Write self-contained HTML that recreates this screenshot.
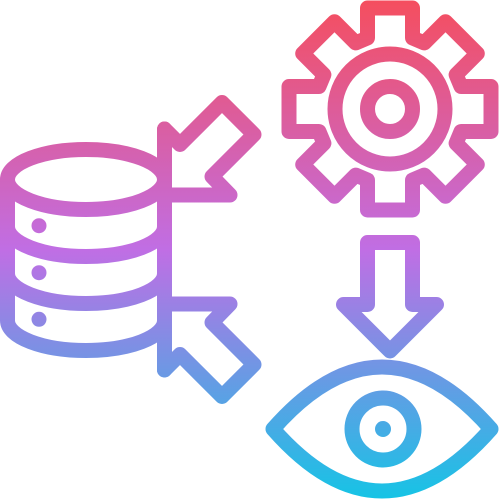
<!DOCTYPE html>
<html><head><style>html,body{margin:0;padding:0;background:#fff}svg{display:block}</style></head>
<body>
<svg width="500" height="500" viewBox="0 0 500 500" xmlns="http://www.w3.org/2000/svg">
<defs>
<linearGradient id="g" gradientUnits="userSpaceOnUse" x1="0" y1="0" x2="0" y2="500">
<stop offset="0" stop-color="#f54e5e"/>
<stop offset="0.5" stop-color="#c06ee4"/>
<stop offset="1" stop-color="#15c4e5"/>
</linearGradient>
</defs>
<g fill="none" stroke="url(#g)" stroke-width="15" stroke-linejoin="round" stroke-linecap="round">
<!-- gear -->
<path d="M367.5 38 L367.5 8 L412.5 8 L412.5 38 L424.3 42.9 L445.5 21.7 L477.3 53.5 L456.1 74.7 L461 86.5 L491 86.5 L491 131.5 L461 131.5 L456.1 143.3 L477.3 164.5 L445.5 196.3 L424.3 175.1 L412.5 180 L412.5 210 L367.5 210 L367.5 180 L355.7 175.1 L334.5 196.3 L302.7 164.5 L323.9 143.3 L319 131.5 L289 131.5 L289 86.5 L319 86.5 L323.9 74.7 L302.7 53.5 L334.5 21.7 L355.7 42.9 Z"/>
<circle cx="390" cy="109" r="55"/>
<circle cx="390" cy="109" r="22.5"/>
<!-- down arrow -->
<path d="M367.5 242.5 L412.5 242.5 L412.5 304.5 L436.5 304.5 L390 351 L343.5 304.5 L367.5 304.5 Z"/>
<!-- eye -->
<path d="M273 429 Q382 305 491 429 Q382 553 273 429 Z"/>
<circle cx="383" cy="429" r="31"/>
<!-- database -->
<ellipse cx="86" cy="179.5" rx="78.5" ry="30"/>
<path d="M7.5 179.5 L7.5 320.5 A78.5 30 0 0 0 164.5 320.5"/>
<path d="M7.5 226.5 A78.5 30 0 0 0 164.5 226.5"/>
<path d="M7.5 273.5 A78.5 30 0 0 0 164.5 273.5"/>
<line x1="164.5" y1="129" x2="164.5" y2="370"/>
<!-- arrows -->
<path d="M164.5 129 L180 144.5 L222 102.5 L254 134.5 L212 176.5 L230 195 L164.5 195"/>
<path d="M164.5 370 L180 354.5 L222 396.5 L254 364.5 L212 322.5 L230 304 L164.5 304"/>
</g>
<g fill="url(#g)">
<circle cx="39" cy="225.7" r="7.5"/>
<circle cx="39" cy="272.7" r="7.5"/>
<circle cx="39" cy="319.3" r="7.5"/>
<circle cx="383" cy="429" r="8"/>
</g>
</svg>
</body></html>
